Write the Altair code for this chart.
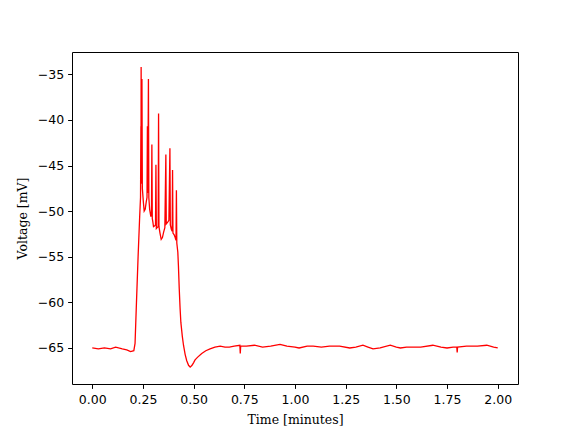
import altair as alt
import pandas as pd

time_min = [
    0.000, 0.030, 0.060, 0.090, 0.115, 0.130, 0.148, 0.170, 0.189, 0.205,
    0.211, 0.218, 0.226, 0.234, 0.238, 0.240, 0.2405, 0.241, 0.243, 0.245,
    0.247, 0.252, 0.256, 0.261, 0.266, 0.270, 0.272, 0.274, 0.277, 0.279,
    0.283, 0.289, 0.292, 0.294, 0.296, 0.299, 0.302, 0.308, 0.312, 0.314,
    0.316, 0.320, 0.325, 0.327, 0.329, 0.334, 0.340, 0.346, 0.352, 0.358,
    0.363, 0.365, 0.372, 0.378, 0.383, 0.385, 0.390, 0.394, 0.396, 0.398,
    0.404, 0.409, 0.413, 0.415, 0.417, 0.419, 0.422, 0.425, 0.429, 0.433,
    0.437, 0.444, 0.450, 0.458, 0.466, 0.475, 0.483, 0.492, 0.500, 0.507,
    0.520, 0.540, 0.560, 0.581, 0.605, 0.631, 0.655, 0.676, 0.700, 0.728,
    0.730, 0.732, 0.760, 0.800, 0.840, 0.880, 0.926, 0.960, 1.000, 1.020,
    1.060, 1.090, 1.130, 1.170, 1.220, 1.270, 1.300, 1.335, 1.360, 1.385,
    1.420, 1.470, 1.500, 1.520, 1.550, 1.585, 1.620, 1.680, 1.720, 1.750,
    1.780, 1.798, 1.800, 1.802, 1.846, 1.900, 1.946, 1.980, 2.000,
]

voltage_mv = [
    -65.0, -65.1, -65.0, -65.1, -64.9, -65.0, -65.1, -65.2, -65.4, -65.3,
    -64.5, -60.0, -55.0, -50.5, -48.5, -40.7, -47.0, -34.2, -46.5, -35.5,
    -47.5, -49.0, -50.0, -49.8, -49.0, -48.5, -40.7, -48.0, -35.5, -48.5,
    -49.8, -50.6, -50.2, -42.7, -50.8, -51.2, -51.7, -51.6, -51.5, -44.9,
    -51.9, -51.8, -51.7, -39.3, -51.7, -52.4, -53.1, -52.9, -52.3, -51.8,
    -43.8, -51.4, -51.2, -51.0, -43.1, -51.5, -52.0, -52.2, -45.5, -52.4,
    -52.6, -52.9, -53.2, -47.7, -53.5, -53.9, -54.5, -56.0, -58.5, -60.6,
    -62.2, -63.7, -64.7, -65.7, -66.4, -66.9, -67.1, -66.9, -66.6, -66.3,
    -66.0, -65.6, -65.3, -65.1, -64.9, -64.8, -64.9, -64.9, -64.8, -64.7,
    -65.6, -64.8, -64.8, -64.7, -64.9, -64.8, -64.6, -64.8, -64.9, -65.0,
    -64.8, -64.8, -64.9, -64.8, -64.8, -65.0, -64.9, -64.7, -64.9, -65.1,
    -65.0, -64.7, -64.9, -65.0, -64.9, -64.9, -64.9, -64.7, -64.9, -65.0,
    -64.9, -64.9, -65.5, -64.9, -64.8, -64.8, -64.7, -64.9, -65.0,
]

x_ticks = [0.0, 0.25, 0.5, 0.75, 1.0, 1.25, 1.5, 1.75, 2.0]
y_ticks = [-65, -60, -55, -50, -45, -40, -35]

df = pd.DataFrame({"t": time_min, "v": voltage_mv})

chart = alt.Chart(df).mark_line(color="#ff0000", strokeWidth=1.3).encode(
    x=alt.X("t:Q",
            scale=alt.Scale(domain=[-0.1, 2.1], nice=False, zero=False),
            axis=alt.Axis(title="Time [minutes]", values=x_ticks, format=".2f",
                          labelPadding=5, titlePadding=8)),
    y=alt.Y("v:Q",
            scale=alt.Scale(domain=[-68.95, -32.55], nice=False, zero=False),
            axis=alt.Axis(title="Voltage [mV]", values=y_ticks, format="d",
                          labelExpr="replace(datum.label, '-', '\u2212')",
                          labelPadding=4, titlePadding=8)),
    order="t:Q",
).properties(
    width=446,
    height=332,
    autosize=alt.AutoSizeParams(type="none"),
    padding={"left": 64, "top": 44, "right": 10, "bottom": 46},
).configure_view(
    stroke="black", strokeWidth=1
).configure_axis(
    grid=False, domain=False, tickColor="black", tickSize=4.4, tickWidth=1,
    labelFont="DejaVu Sans", labelFontSize=12.5, labelColor="black",
    titleFont="DejaVu Serif", titleFontSize=12.5, titleFontWeight="normal",
    titleColor="black",
)

chart.save("out.html", embed_options={"renderer": "svg", "actions": False})
